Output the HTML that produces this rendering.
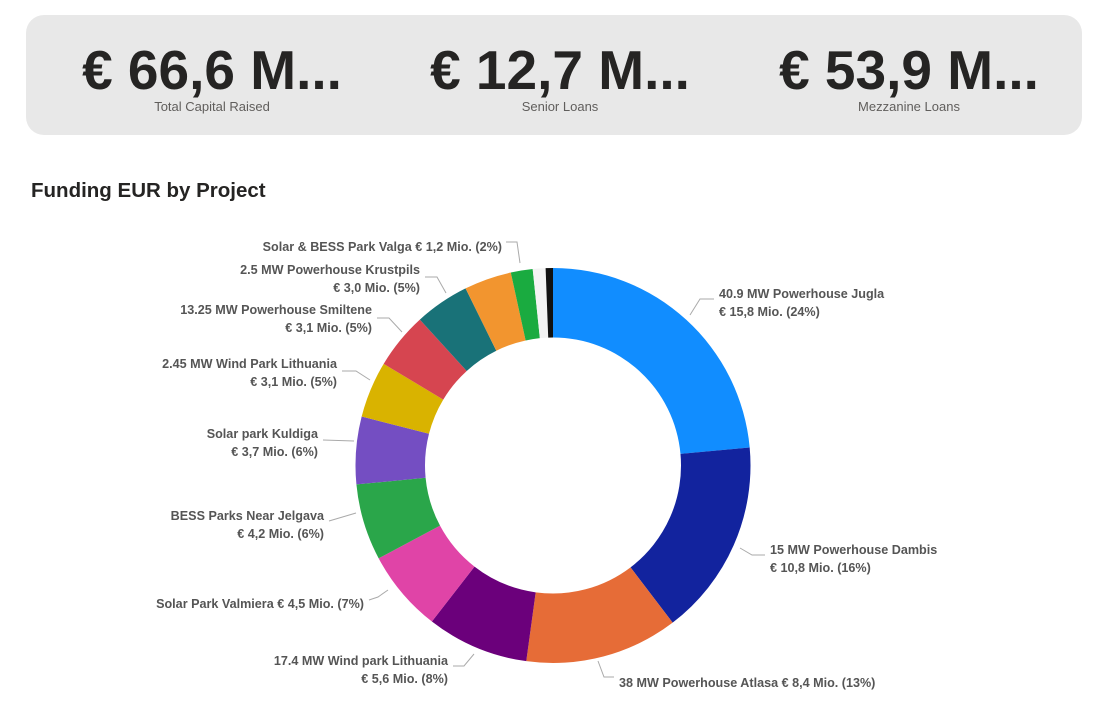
<!DOCTYPE html>
<html><head><meta charset="utf-8"><style>
body{margin:0;width:1107px;height:713px;background:#fff;font-family:"Segoe UI","Liberation Sans",sans-serif;overflow:hidden;position:relative}
.card{position:absolute;left:26px;top:15px;width:1056px;height:120px;background:#e8e8e8;border-radius:18px}
.kpi{position:absolute;top:41px;width:320px;text-align:center}
.kpi .v{font-size:55px;font-weight:bold;color:#252423;line-height:58px}
.kpi .l{font-size:13px;color:#605e5c;margin-top:0px}
.title{position:absolute;left:31px;top:179px;font-size:20.5px;font-weight:bold;color:#252423}
svg{position:absolute;left:0;top:0}
svg text{font-family:"Segoe UI","Liberation Sans",sans-serif;font-size:12.6px;font-weight:bold;fill:#555}
</style></head><body>
<div class="card"></div>
<div class="kpi" style="left:52px"><div class="v">€ 66,6 M...</div><div class="l">Total Capital Raised</div></div>
<div class="kpi" style="left:400px"><div class="v">€ 12,7 M...</div><div class="l">Senior Loans</div></div>
<div class="kpi" style="left:749px"><div class="v">€ 53,9 M...</div><div class="l">Mezzanine Loans</div></div>
<div class="title">Funding EUR by Project</div>
<svg width="1107" height="713" id="s">
<g id="arcs"></g>
<g fill="none" stroke="#aaa" stroke-width="1">
<polyline points="506,242 517,242 520,263"/>
<polyline points="425,277 437,277 446,293"/>
<polyline points="377,318 389,318 402,332"/>
<polyline points="342,371 356,371 370,380"/>
<polyline points="323,440 354,441"/>
<polyline points="329,521 356,513"/>
<polyline points="369,600 378,597 388,590"/>
<polyline points="453,666 464,666 474,654"/>
<polyline points="614,677 604,677 598,661"/>
<polyline points="765,555 752,555 740,548"/>
<polyline points="714,299 700,299 690,315"/>
</g>
<g text-anchor="end">
<text x="502" y="251">Solar &amp; BESS Park Valga € 1,2 Mio. (2%)</text>
<text x="420" y="274">2.5 MW Powerhouse Krustpils</text><text x="420" y="292">€ 3,0 Mio. (5%)</text>
<text x="372" y="314">13.25 MW Powerhouse Smiltene</text><text x="372" y="332">€ 3,1 Mio. (5%)</text>
<text x="337" y="368">2.45 MW Wind Park Lithuania</text><text x="337" y="386">€ 3,1 Mio. (5%)</text>
<text x="318" y="438">Solar park Kuldiga</text><text x="318" y="456">€ 3,7 Mio. (6%)</text>
<text x="324" y="520">BESS Parks Near Jelgava</text><text x="324" y="538">€ 4,2 Mio. (6%)</text>
<text x="364" y="608">Solar Park Valmiera € 4,5 Mio. (7%)</text>
<text x="448" y="665">17.4 MW Wind park Lithuania</text><text x="448" y="683">€ 5,6 Mio. (8%)</text>
</g>
<g>
<text x="619" y="687">38 MW Powerhouse Atlasa € 8,4 Mio. (13%)</text>
<text x="770" y="554">15 MW Powerhouse Dambis</text><text x="770" y="572">€ 10,8 Mio. (16%)</text>
<text x="719" y="298">40.9 MW Powerhouse Jugla</text><text x="719" y="316">€ 15,8 Mio. (24%)</text>
</g>
</svg>
<script>
var cx=553,cy=465.5,R=197.5,r=128;
var segs=[[15.8,"#118DFF"],[10.8,"#12239E"],[8.4,"#E66C37"],[5.6,"#6B007B"],[4.5,"#E044A7"],[4.2,"#2AA64A"],[3.7,"#744EC2"],[3.1,"#D9B300"],[3.1,"#D64550"],[3.0,"#197278"],[2.6,"#F2952F"],[1.2,"#1AAB40"],[0.7,"#f3f3f3"],[0.4,"#111"]];
var tot=0;segs.forEach(function(s){tot+=s[0]});
var a=0,g=document.getElementById("arcs"),h="";
function p(rad,ang){var t=ang*Math.PI/180;return (cx+rad*Math.sin(t)).toFixed(2)+","+(cy-rad*Math.cos(t)).toFixed(2)}
segs.forEach(function(s){var d=s[0]*360/tot,b=a+d,l=d>180?1:0;
h+='<path fill="'+s[1]+'" d="M'+p(R,a)+' A'+R+','+R+' 0 '+l+' 1 '+p(R,b)+' L'+p(r,b)+' A'+r+','+r+' 0 '+l+' 0 '+p(r,a)+' Z"/>';a=b;});
g.innerHTML=h;
</script>
</body></html>
